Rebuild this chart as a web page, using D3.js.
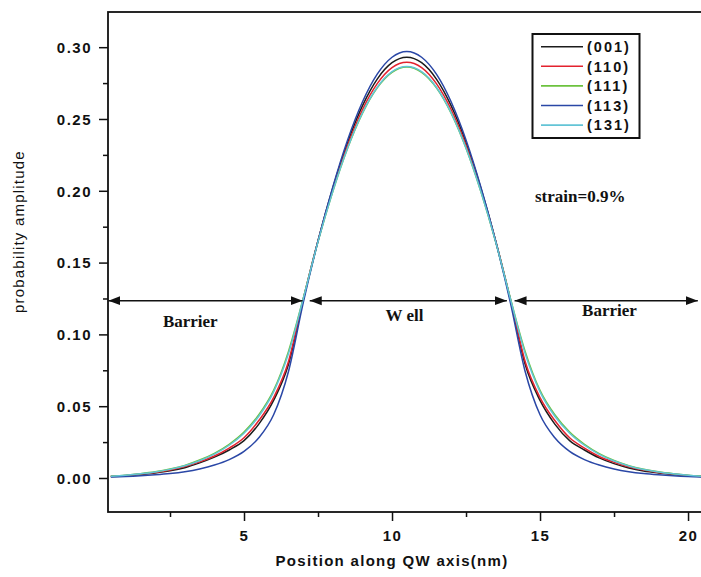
<!DOCTYPE html>
<html>
<head>
<meta charset="utf-8">
<script src="https://cdn.jsdelivr.net/npm/d3@7"></script>
<style>
  body { margin: 0; background: #fff; }
  svg { display: block; }
</style>
</head>
<body>
<div id="chart"></div>
<script>
// position along the QW axis (nm)
const positions = [0.5, 1.0, 1.5, 2.0, 2.5, 3.0, 3.5, 4.0, 4.5, 5.0, 5.5, 6.0, 6.5, 7.0,
  7.5, 8.0, 8.5, 9.0, 9.5, 10.0, 10.5, 11.0, 11.5, 12.0, 12.5, 13.0, 13.5, 14.0,
  14.5, 15.0, 15.5, 16.0, 16.5, 17.0, 17.5, 18.0, 18.5, 19.0, 19.5, 20.0, 20.5];

// probability amplitude per orientation
const amp001 = [0.0010, 0.0016, 0.0024, 0.0035, 0.0050, 0.0072, 0.0105, 0.0145, 0.0195, 0.0260,
  0.0375, 0.0540, 0.0790, 0.1240, 0.1653, 0.2020, 0.2336, 0.2591, 0.2778, 0.2892, 0.2930,
  0.2892, 0.2778, 0.2591, 0.2336, 0.2020, 0.1653, 0.1240, 0.0790, 0.0540, 0.0375,
  0.0260, 0.0195, 0.0140, 0.0100, 0.0070, 0.0049, 0.0035, 0.0024, 0.0016, 0.0010];
const amp110 = [0.0012, 0.0018, 0.0027, 0.0039, 0.0056, 0.0080, 0.0112, 0.0153, 0.0208, 0.0280,
  0.0400, 0.0560, 0.0810, 0.1245, 0.1651, 0.2007, 0.2316, 0.2564, 0.2746, 0.2858, 0.2895,
  0.2858, 0.2746, 0.2564, 0.2316, 0.2007, 0.1651, 0.1245, 0.0810, 0.0560, 0.0400,
  0.0280, 0.0208, 0.0150, 0.0110, 0.0078, 0.0055, 0.0039, 0.0027, 0.0018, 0.0012];
const amp111 = [0.0013, 0.0020, 0.0030, 0.0043, 0.0062, 0.0088, 0.0125, 0.0172, 0.0235, 0.0320,
  0.0440, 0.0610, 0.0880, 0.1250, 0.1645, 0.1995, 0.2296, 0.2539, 0.2717, 0.2825, 0.2862,
  0.2825, 0.2717, 0.2539, 0.2296, 0.1995, 0.1645, 0.1250, 0.0880, 0.0610, 0.0440,
  0.0320, 0.0235, 0.0170, 0.0122, 0.0086, 0.0061, 0.0043, 0.0030, 0.0020, 0.0013];
const amp113 = [0.0007, 0.0010, 0.0015, 0.0022, 0.0031, 0.0044, 0.0063, 0.0090, 0.0128, 0.0185,
  0.0280, 0.0440, 0.0740, 0.1220, 0.1650, 0.2027, 0.2354, 0.2618, 0.2812, 0.2930, 0.2970,
  0.2930, 0.2812, 0.2618, 0.2354, 0.2027, 0.1650, 0.1220, 0.0740, 0.0440, 0.0280,
  0.0185, 0.0128, 0.0090, 0.0063, 0.0044, 0.0031, 0.0022, 0.0015, 0.0010, 0.0007];
const amp131 = [0.0012, 0.0019, 0.0029, 0.0042, 0.0060, 0.0085, 0.0120, 0.0166, 0.0228, 0.0312,
  0.0430, 0.0600, 0.0865, 0.1248, 0.1646, 0.1996, 0.2298, 0.2542, 0.2721, 0.2830, 0.2866,
  0.2830, 0.2721, 0.2542, 0.2298, 0.1996, 0.1646, 0.1248, 0.0865, 0.0600, 0.0430,
  0.0312, 0.0228, 0.0165, 0.0118, 0.0084, 0.0059, 0.0042, 0.0029, 0.0019, 0.0012];

const seriesNames = ['(001)', '(110)', '(111)', '(113)', '(131)'];
const seriesColors = ['#1c1c1c', '#e3222e', '#6cc23e', '#2a47a6', '#63c4d6'];
const seriesValues = [amp001, amp110, amp111, amp113, amp131];

const xMajor = [5, 10, 15, 20];
const xMinor = [2.5, 7.5, 12.5, 17.5];
const yMajor = [0, 0.05, 0.10, 0.15, 0.20, 0.25, 0.30];
const yMinor = [0.025, 0.075, 0.125, 0.175, 0.225, 0.275];

// barrier / well arrows at one amplitude level
const arrowLevel = 0.1235;
const regions = [[0.42, 6.98], [7.22, 13.88], [14.14, 20.33]];

const width = 701, height = 577;
const plotLeft = 108, plotTop = 12, plotBottom = 512;

const x = d3.scaleLinear().domain([0.4054, 20.6]).range([plotLeft, 705.8]);
const y = d3.scaleLinear().domain([-0.02368, 0.3245]).range([plotBottom, plotTop]);

const svg = d3.select('#chart').append('svg')
    .attr('width', width)
    .attr('height', height)
    .style('font-family', 'Arial, "Liberation Sans", sans-serif');

svg.append('rect').attr('width', width).attr('height', height).attr('fill', '#fff');

const defs = svg.append('defs');
defs.append('clipPath').attr('id', 'plot')
    .append('rect')
    .attr('x', plotLeft).attr('y', plotTop)
    .attr('width', x.range()[1] - plotLeft).attr('height', plotBottom - plotTop);
defs.append('marker')
    .attr('id', 'head')
    .attr('viewBox', '0 -5 12 10')
    .attr('refX', 12).attr('refY', 0)
    .attr('markerWidth', 12).attr('markerHeight', 10)
    .attr('markerUnits', 'userSpaceOnUse')
    .attr('orient', 'auto-start-reverse')
    .append('path')
    .attr('d', 'M0,-4.5L12,0L0,4.5Z')
    .attr('fill', '#111');

// axes
const axisFont = g => g.selectAll('text')
    .attr('fill', '#111')
    .style('font-size', '15px')
    .style('font-weight', 'bold')
    .style('letter-spacing', '1.5px');

const yAxis = svg.append('g')
    .attr('transform', `translate(${plotLeft},0)`)
    .call(d3.axisLeft(y).tickValues(yMajor).tickFormat(d3.format('.2f')).tickSize(9).tickPadding(7));
yAxis.call(axisFont);
yAxis.selectAll('text').attr('dy', '0.36em');
svg.append('g')
    .attr('transform', `translate(${plotLeft},0)`)
    .call(d3.axisLeft(y).tickValues(yMinor).tickFormat('').tickSize(5));

const xAxis = svg.append('g')
    .attr('transform', `translate(0,${plotBottom})`)
    .call(d3.axisBottom(x).tickValues(xMajor).tickSize(9).tickPadding(9));
xAxis.call(axisFont);
svg.append('g')
    .attr('transform', `translate(0,${plotBottom})`)
    .call(d3.axisBottom(x).tickValues(xMinor).tickFormat('').tickSize(5));

svg.selectAll('.domain').remove();
svg.selectAll('.tick line').attr('stroke', '#111').attr('stroke-width', 1.5);

// plot frame
svg.append('rect')
    .attr('x', plotLeft).attr('y', plotTop)
    .attr('width', x.range()[1] - plotLeft).attr('height', plotBottom - plotTop)
    .attr('fill', 'none')
    .attr('stroke', '#111')
    .attr('stroke-width', 1.8);

// curves
const line = d3.line()
    .x((d, i) => x(positions[i]))
    .y(d => y(d))
    .curve(d3.curveMonotoneX);

svg.append('g').attr('clip-path', 'url(#plot)')
    .selectAll('path')
    .data(seriesValues)
    .join('path')
    .attr('d', line)
    .attr('fill', 'none')
    .attr('stroke', (d, i) => seriesColors[i])
    .attr('stroke-width', 1.5);

// region arrows
svg.append('g')
    .selectAll('line')
    .data(regions)
    .join('line')
    .attr('x1', d => x(d[0]))
    .attr('x2', d => x(d[1]))
    .attr('y1', y(arrowLevel))
    .attr('y2', y(arrowLevel))
    .attr('stroke', '#111')
    .attr('stroke-width', 1.5)
    .attr('marker-start', 'url(#head)')
    .attr('marker-end', 'url(#head)');

const serif = '"Liberation Serif", "Times New Roman", serif';
const notes = [
  { text: 'Barrier', px: 2.26, py: 0.1052 },
  { text: 'W ell', px: 9.78, py: 0.1093 },
  { text: 'Barrier', px: 16.42, py: 0.1125 },
  { text: 'strain=0.9%', px: 14.83, py: 0.1924 }
];
svg.append('g')
    .selectAll('text')
    .data(notes)
    .join('text')
    .attr('x', d => x(d.px))
    .attr('y', d => y(d.py))
    .attr('fill', '#111')
    .style('font-family', serif)
    .style('font-size', '17px')
    .style('font-weight', 'bold')
    .style('white-space', 'pre')
    .text(d => d.text);

// legend
const legend = svg.append('g');
legend.append('rect')
    .attr('x', 532.5).attr('y', 34)
    .attr('width', 107).attr('height', 104)
    .attr('fill', '#fff')
    .attr('stroke', '#111')
    .attr('stroke-width', 2);
const rows = legend.selectAll('g.row')
    .data(seriesNames)
    .join('g')
    .attr('class', 'row')
    .attr('transform', (d, i) => `translate(0,${46.7 + i * 19.6})`);
rows.append('line')
    .attr('x1', 541).attr('x2', 583)
    .attr('stroke', (d, i) => seriesColors[i])
    .attr('stroke-width', 1.6);
rows.append('text')
    .attr('x', 587)
    .attr('dy', '0.36em')
    .attr('fill', '#111')
    .style('font-size', '14.5px')
    .style('font-weight', 'bold')
    .style('letter-spacing', '2px')
    .text(d => d);

// axis titles
svg.append('text')
    .attr('x', 392)
    .attr('y', 566)
    .attr('text-anchor', 'middle')
    .attr('fill', '#111')
    .style('font-size', '15px')
    .style('font-weight', 'bold')
    .style('letter-spacing', '1.3px')
    .text('Position along QW axis(nm)');

svg.append('text')
    .attr('transform', 'translate(24,313) rotate(-90)')
    .attr('fill', '#111')
    .style('font-size', '15px')
    .style('letter-spacing', '1.2px')
    .text('probability amplitude');
</script>
</body>
</html>
